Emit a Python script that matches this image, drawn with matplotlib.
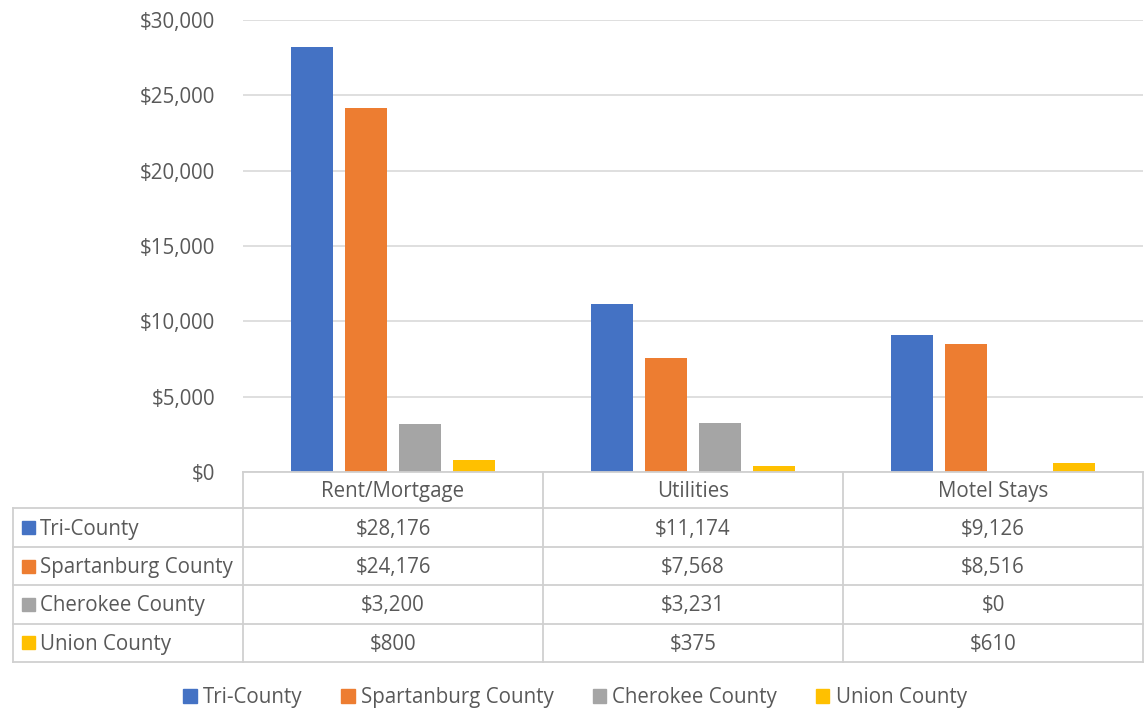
import matplotlib.pyplot as plt
from matplotlib.patches import Rectangle

categories = ["Rent/Mortgage", "Utilities", "Motel Stays"]
series = ["Tri-County", "Spartanburg County", "Cherokee County", "Union County"]
tri_county = [28176, 11174, 9126]
spartanburg = [24176, 7568, 8516]
cherokee = [3200, 3231, 0]
union = [800, 375, 610]
colors = ["#4472C4", "#ED7D31", "#A5A5A5", "#FFC000"]
values = [tri_county, spartanburg, cherokee, union]

plt.rcParams['font.family'] = ['Open Sans', 'DejaVu Sans']
txt = "#595959"
grid = "#D9D9D9"
fs = 14.8

fig = plt.figure(figsize=(11.44, 7.10), dpi=100)
W, H = 1144, 710
ax = fig.add_axes([243 / W, 1 - 472 / H, 900 / W, 452 / H])

# bars
width = 0.143
step = 0.18
for i, (name, vals) in enumerate(zip(series, values)):
    xs = [c + 0.5 + (i - 1.5) * step for c in range(len(categories))]
    ax.bar(xs, vals, width=width, color=colors[i], label=name, zorder=3)

ax.set_xlim(0, 3)
ax.set_ylim(0, 30000)
ax.set_yticks(range(0, 30001, 5000))
ax.set_yticklabels([f"${v:,}" for v in range(0, 30001, 5000)], color=txt, fontsize=fs)
ax.tick_params(axis="y", length=0, pad=20)
ax.set_xticks([])
ax.yaxis.grid(True, color=grid, linewidth=1.2, zorder=0)
for s in ax.spines.values():
    s.set_visible(False)

# data table below the chart
label_w = 230 / 300
tax = fig.add_axes([13 / W, 1 - 662 / H, 1130 / W, 190 / H])
tax.set_xlim(-label_w, 3)
row_h = [36.5] + [38.4] * 4
edges = [0]
for h in row_h:
    edges.append(edges[-1] + h)
tax.set_ylim(edges[-1], 0)
tax.axis("off")

lc = "#D0D0D0"
lw = 1.3
tax.plot([0, 3], [0, 0], color=lc, lw=lw, clip_on=False)
for y in edges[1:]:
    tax.plot([-label_w, 3], [y, y], color=lc, lw=lw, clip_on=False)
tax.plot([-label_w, -label_w], [edges[1], edges[-1]], color=lc, lw=lw, clip_on=False)
for x in range(4):
    tax.plot([x, x], [0, edges[-1]], color=lc, lw=lw, clip_on=False)

for j, cat in enumerate(categories):
    tax.text(j + 0.5, (edges[0] + edges[1]) / 2 + 1, cat, ha="center", va="center",
             color=txt, fontsize=fs)

px = 1 / 300  # one pixel in category units
for i, (name, vals) in enumerate(zip(series, values)):
    yc = (edges[i + 1] + edges[i + 2]) / 2
    tax.add_patch(Rectangle((-label_w + 9 * px, yc - 6.5), 13 * px, 13,
                            color=colors[i], clip_on=False))
    tax.text(-label_w + 27 * px, yc + 1.5, name, ha="left", va="center", color=txt, fontsize=fs)
    for j, v in enumerate(vals):
        tax.text(j + 0.5, yc + 1.5, f"${v:,}", ha="center", va="center", color=txt, fontsize=fs)

# legend
handles = [Rectangle((0, 0), 1, 1, color=c) for c in colors]
fig.legend(handles, series, loc="center", bbox_to_anchor=(575 / W, 1 - 698 / H),
           ncol=4, frameon=False, fontsize=fs, labelcolor=txt,
           handlelength=0.65, handleheight=0.65, handletextpad=0.3, columnspacing=1.9)

fig.savefig("out.png", dpi=100)
